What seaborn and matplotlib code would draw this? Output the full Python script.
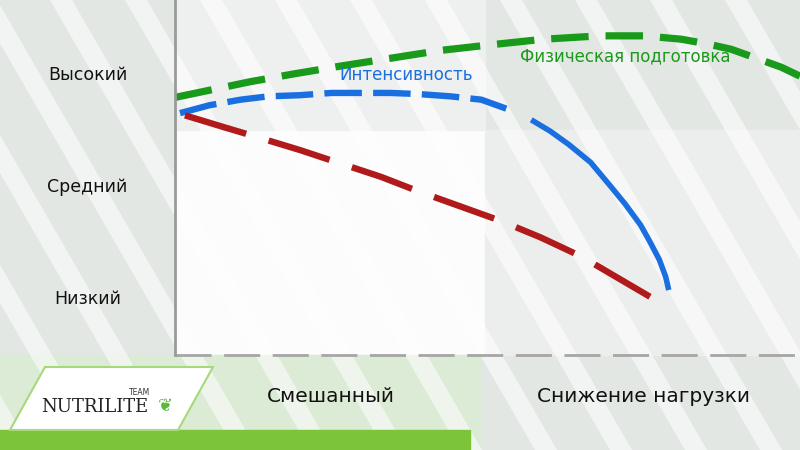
import numpy as np
import pandas as pd
import matplotlib
matplotlib.use("Agg")
import matplotlib.pyplot as plt
from matplotlib.patches import Polygon, Rectangle
import seaborn as sns

# ---- data ----
x_categories = ["Смешанный", "Снижение нагрузки"]
y_categories = ["Низкий", "Средний", "Высокий"]

fitness_x = [0.00, 0.12, 0.24, 0.38, 0.53, 0.69, 0.85, 1.01, 1.18, 1.36, 1.50, 1.62, 1.70, 1.78, 1.87, 1.94, 2.00]
fitness_y = [2.30, 2.37, 2.44, 2.51, 2.58, 2.65, 2.72, 2.77, 2.82, 2.85, 2.85, 2.82, 2.78, 2.73, 2.64, 2.57, 2.49]

intensity_x = [0.016, 0.11, 0.21, 0.30, 0.40, 0.50, 0.59, 0.69, 0.78, 0.88, 0.98, 1.06, 1.14, 1.20, 1.26, 1.33, 1.39, 1.44, 1.49, 1.52, 1.55, 1.57, 1.58]
intensity_y = [2.16, 2.23, 2.28, 2.31, 2.32, 2.34, 2.34, 2.34, 2.33, 2.31, 2.28, 2.20, 2.10, 2.00, 1.88, 1.72, 1.52, 1.35, 1.16, 1.01, 0.85, 0.70, 0.58]
intensity_solid_from = 1.14   # the last arc is drawn solid

volume_x = [0.032, 0.15, 0.27, 0.40, 0.53, 0.66, 0.78, 0.91, 1.04, 1.17, 1.30, 1.41, 1.52]
volume_y = [2.14, 2.04, 1.94, 1.83, 1.71, 1.59, 1.46, 1.33, 1.20, 1.05, 0.88, 0.70, 0.52]

series_names = ["Физическая подготовка", "Интенсивность", ""]
series_colors = ["#1a9a1a", "#1a6fe0", "#b01a1a"]

sns.set_theme(style="white")
plt.rcParams["font.family"] = ["DejaVu Sans"]
plt.rcParams["lines.scale_dashes"] = False

fig = plt.figure(figsize=(8, 4.5), dpi=100)
fig.patch.set_facecolor("#e2e7e4")

# ---- decorative background ----
bg = fig.add_axes([0, 0, 1, 1])
bg.set_xlim(0, 800)
bg.set_ylim(450, 0)
bg.axis("off")
bg.add_patch(Rectangle((175, 130), 310, 225, color="#fbfcfb", zorder=0))
bg.add_patch(Rectangle((485, 130), 315, 225, color="#eceeed", zorder=0))
bg.add_patch(Rectangle((175, 0), 310, 130, color="#eef0ef", zorder=0))
bg.add_patch(Rectangle((0, 355), 480, 95, color="#dcebd6", zorder=0))
for x0 in range(-400, 900, 75):
    pts = [(x0, 0), (x0 + 22, 0), (x0 + 22 + 260, 450), (x0 + 260, 450)]
    bg.add_patch(Polygon(pts, closed=True, color="white", alpha=0.55, lw=0, zorder=1))
bg.add_patch(Rectangle((0, 430), 470, 20, color="#7cc43a", zorder=2))
bg.add_patch(Polygon([(45, 367), (213, 367), (178, 430), (10, 430)], closed=True,
                     facecolor="white", edgecolor="#a6d97a", lw=1.5, zorder=3))
bg.text(95, 412, "NUTRILITE", fontsize=13, family="DejaVu Serif", color="#222222",
        ha="center", va="baseline", zorder=4)
bg.text(140, 395, "TEAM", fontsize=5.5, color="#333333", ha="center", zorder=4)
bg.text(165, 406, "❦", fontsize=13, color="#5db83a", ha="center", va="center",
        family="DejaVu Sans", zorder=4)

# ---- main chart ----
ax = fig.add_axes([175 / 800, 95 / 450, 625 / 800, 355 / 450])
ax.patch.set_alpha(0)
ax.set_xlim(0, 2)
ax.set_ylim(0, 3.17)

ix = np.array(intensity_x)
iy = np.array(intensity_y)
dashed_mask = ix <= 1.06
solid_mask = ix >= intensity_solid_from

# (data x, data y, color, linewidth, dash, gap) ; dash/gap in points (None = solid)
specs = [
    (fitness_x, fitness_y, series_colors[0], 5.2, 27, 12),
    (ix[dashed_mask], iy[dashed_mask], series_colors[1], 4.6, 27, 11),
    (ix[solid_mask], iy[solid_mask], series_colors[1], 4.0, None, None),
    (volume_x, volume_y, series_colors[2], 4.6, 46, 19),
]

fig.canvas.draw()
for xs, ys, col, lw, d, g in specs:
    sns.lineplot(x=list(xs), y=list(ys), sort=False, ax=ax, color=col, linewidth=lw,
                 solid_capstyle="butt", dash_capstyle="butt")
    line = ax.lines[-1]
    if d is not None:
        pts = ax.transData.transform(np.column_stack([xs, ys]))
        L = np.sum(np.hypot(*np.diff(pts, axis=0).T)) * 72 / fig.dpi
        n = max(2, int(round((L + g) / (d + g))))
        g2 = (L - n * d) / (n - 1)
        line.set_dashes((d, g2))

ax.text(1.44, 2.67, series_names[0], color=series_colors[0], fontsize=12, ha="center", va="center")
ax.text(0.74, 2.50, series_names[1], color=series_colors[1], fontsize=12, ha="center", va="center")

for i, lab in enumerate(y_categories):
    ax.text(-0.28, i + 0.5, lab, fontsize=12.5, color="#111111", ha="center", va="center",
            clip_on=False)
for i, lab in enumerate(x_categories):
    ax.text(i + 0.5, -0.37, lab, fontsize=14.5, color="#111111", ha="center", va="center",
            clip_on=False)

ax.set_xlim(0, 2)
ax.set_ylim(0, 3.17)
ax.set_xticks([])
ax.set_yticks([])
ax.set_xlabel("")
ax.set_ylabel("")
for s in ["top", "right", "bottom"]:
    ax.spines[s].set_visible(False)
ax.spines["left"].set_color("#9a9a9a")
ax.spines["left"].set_linewidth(2)
ax.axhline(0, color="#a6a6a6", lw=2, ls=(0, (26, 9)), clip_on=False)

fig.savefig("out.png", dpi=100, facecolor=fig.get_facecolor())
